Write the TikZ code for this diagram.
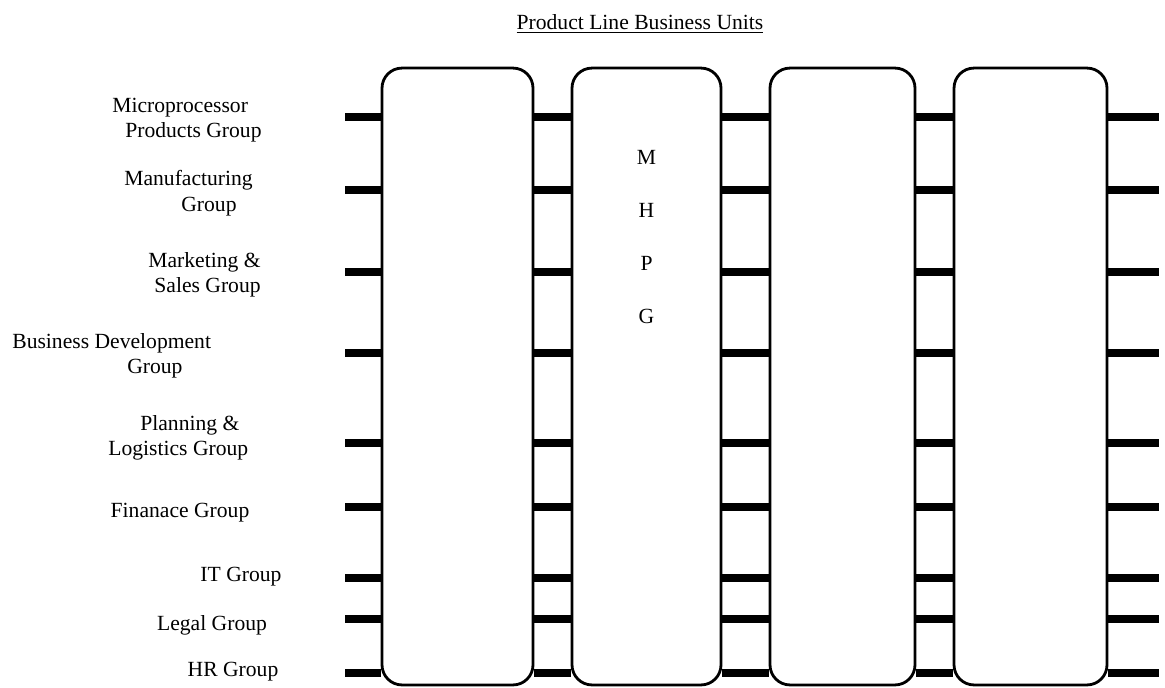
\documentclass[tikz,border=0pt]{standalone}
\usepackage{fontspec}
\setmainfont{Liberation Serif}
\tikzset{
  unit/.style={draw,line width=1.6pt,rounded corners=0.4cm,fill=white,inner sep=0pt,minimum height=12.34cm},
  bar/.style={line width=4.8pt},
  lbl/.style={align=center,inner sep=0pt,font=\fontsize{12.3}{14.5}\selectfont},
}
\begin{document}
\begin{tikzpicture}[x=0.02cm,y=-0.02cm]
    \useasboundingbox (0,0) rectangle (1165,687);
    %titolo
    \node[lbl] (title) at (640,24) {\underline{Product Line Business Units}};

    %unita
    \node[unit,minimum width=3.02cm] (u1) at (457.5,376.5) {};
    \node[unit,minimum width=2.98cm] (u2) at (646.5,376.5) {};
    \node[unit,minimum width=2.90cm] (u3) at (842.5,376.5) {};
    \node[unit,minimum width=3.06cm] (u4) at (1030.5,376.5) {};

    %MHPG
    \node[lbl] (m) at (646.5,157) {M};
    \node[lbl] (h) at (646.5,210) {H};
    \node[lbl] (p) at (646.5,263) {P};
    \node[lbl] (g) at (646.5,316) {G};

    %gruppi
    \node[lbl,align=left,anchor=west] (micro) at (112,120) {Microprocessor\\\hspace*{0.26cm}Products Group};
    \node[lbl,align=left,anchor=west] (manuf) at (124,193) {Manufacturing\\\hspace*{1.14cm}Group};
    \node[lbl,align=right,anchor=east] (mkt) at (261,275) {Marketing \&\\Sales Group};
    \node[lbl,align=left,anchor=west] (bizdev) at (12,356) {Business Development\\\hspace*{2.3cm}Group};
    \node[lbl,align=left,anchor=west] (plan) at (108,438) {\hspace*{0.64cm}Planning \&\\Logistics Group};
    \node[lbl] (fin) at (180,513) {Finanace Group};
    \node[lbl] (it) at (241,577) {IT Group};
    \node[lbl] (legal) at (212,625) {Legal Group};
    \node[lbl] (hr) at (233,672) {HR Group};

    %barre
    \foreach \y in {117,190,272,353,443,507,578,619,673}{
        \coordinate (l\y) at (345,\y);
        \coordinate (r\y) at (1159,\y);
        \draw[bar] (l\y) -- (u1.west |- l\y);
        \draw[bar] (u1.east |- l\y) -- (u2.west |- l\y);
        \draw[bar] (u2.east |- l\y) -- (u3.west |- l\y);
        \draw[bar] (u3.east |- l\y) -- (u4.west |- l\y);
        \draw[bar] (u4.east |- l\y) -- (r\y);
    }
\end{tikzpicture}
\end{document}
